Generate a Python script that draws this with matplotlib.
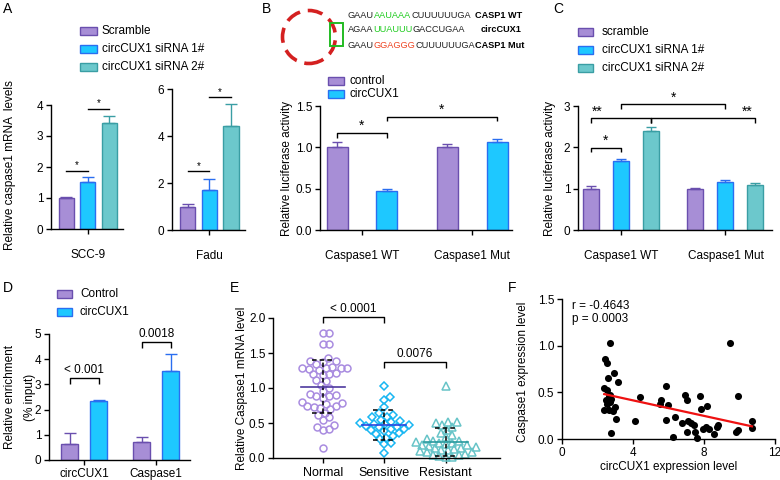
import numpy as np
import matplotlib
matplotlib.use('Agg')
import matplotlib.pyplot as plt
from matplotlib.patches import Rectangle, Circle

plt.rcParams['font.family'] = ['Liberation Sans', 'DejaVu Sans']
plt.rcParams['font.size'] = 8.5

W, H = 780, 480
fig = plt.figure(figsize=(7.8, 4.8), dpi=100)

# ---------------- data ----------------
# Panel A
a_groups = ['Scramble', 'circCUX1 siRNA 1#', 'circCUX1 siRNA 2#']
a_cells = ['SCC-9', 'Fadu']
a_scc9_mean = [0.99, 1.52, 3.43]
a_scc9_err = [0.05, 0.17, 0.23]
a_fadu_mean = [0.98, 1.72, 4.42]
a_fadu_err = [0.14, 0.47, 0.94]
a_scc9_sig = [1.88, 3.87]
a_fadu_sig = [2.50, 5.64]
a_scc9_ticks = [0, 1, 2, 3, 4]
a_fadu_ticks = [0, 2, 4, 6]

# Panel B
b_groups = ['control', 'circCUX1']
b_cats = ['Caspase1 WT', 'Caspase1 Mut']
b_control = [1.00, 1.00]
b_control_err = [0.06, 0.04]
b_circ = [0.47, 1.07]
b_circ_err = [0.03, 0.03]
b_sig_levels = [1.17, 1.37]
b_ticks = [0.0, 0.5, 1.0, 1.5]
seq_prefix = ['GAAU', 'AGAA', 'GAAU']
seq_site = ['AAUAAA', 'UUAUUU', 'GGAGGG']
seq_suffix = ['CUUUUUUGA', 'GACCUGAA', 'CUUUUUUGA']
seq_names = ['CASP1 WT', 'circCUX1', 'CASP1 Mut']
seq_site_colors = ['#22cc22', '#22cc22', '#ee4422']

# Panel C
c_groups = ['scramble', 'circCUX1 siRNA 1#', 'circCUX1 siRNA 2#']
c_cats = ['Caspase1 WT', 'Caspase1 Mut']
c_wt = [0.99, 1.67, 2.40]
c_wt_err = [0.08, 0.04, 0.09]
c_mut = [0.99, 1.16, 1.08]
c_mut_err = [0.03, 0.04, 0.06]
c_sig_levels = [1.99, 2.70, 3.04, 2.70]
c_sig_labels = ['*', '**', '*', '**']
c_ticks = [0, 1, 2, 3]

# Panel D
d_groups = ['Control', 'circCUX1']
d_cats = ['circCUX1', 'Caspase1']
d_control = [0.63, 0.70]
d_control_err = [0.43, 0.23]
d_circ = [2.33, 3.53]
d_circ_err = [0.05, 0.68]
d_sig_levels = [3.27, 4.70]
d_sig_labels = ['< 0.001', '0.0018']
d_ticks = [0, 1, 2, 3, 4, 5]

# Panel E
e_groups = ['Normal', 'Sensitive', 'Resistant']
e_normal = [1.78, 1.78, 1.63, 1.63, 1.43, 1.39, 1.38, 1.37, 1.34, 1.30, 1.29, 1.29,
            1.28, 1.28, 1.27, 1.26, 1.22, 1.20, 1.20, 1.18, 1.12, 1.10, 1.05, 1.00,
            0.96, 0.92, 0.90, 0.88, 0.88, 0.86, 0.80, 0.78, 0.77, 0.75, 0.74, 0.73,
            0.72, 0.70, 0.65, 0.62, 0.58, 0.55, 0.47, 0.45, 0.41, 0.40, 0.14]
e_sensitive = [1.03, 0.87, 0.83, 0.73, 0.64, 0.62, 0.59, 0.58, 0.55, 0.53, 0.52,
               0.50, 0.49, 0.48, 0.47, 0.46, 0.45, 0.44, 0.42, 0.41, 0.40, 0.38,
               0.36, 0.35, 0.32, 0.29, 0.27, 0.22, 0.20, 0.07]
e_resistant = [1.03, 0.52, 0.52, 0.50, 0.47, 0.45, 0.40, 0.36, 0.33, 0.30, 0.27,
               0.25, 0.24, 0.23, 0.22, 0.21, 0.20, 0.19, 0.18, 0.17, 0.16, 0.15,
               0.14, 0.13, 0.12, 0.11, 0.10, 0.09, 0.08, 0.06, 0.05, 0.04, 0.03,
               0.02, 0.02]
e_mean = [1.02, 0.475, 0.235]
e_sd = [0.375, 0.215, 0.20]
e_sig_levels = [2.02, 1.37]
e_sig_labels = ['< 0.0001', '0.0076']
e_ticks = [0.0, 0.5, 1.0, 1.5, 2.0]

# Panel F
f_x = [2.72, 2.43, 2.53, 2.94, 2.57, 3.13, 2.38, 2.53, 2.62, 2.50, 2.68, 2.78, 2.55,
       2.72, 3.00, 2.38, 2.62, 2.85, 3.04, 2.75, 4.09, 4.38, 5.51, 5.58, 5.87, 5.96,
       5.87, 6.26, 6.36, 6.74, 6.91, 7.06, 7.11, 7.06, 7.25, 7.43, 7.47, 7.62, 7.77,
       7.85, 8.15, 7.96, 8.09, 8.28, 8.57, 8.72, 8.81, 9.45, 9.79, 9.89, 9.89, 10.70,
       10.70]
f_y = [1.03, 0.86, 0.81, 0.71, 0.65, 0.61, 0.55, 0.52, 0.46, 0.42, 0.40, 0.43, 0.38,
       0.47, 0.34, 0.31, 0.31, 0.30, 0.21, 0.06, 0.19, 0.45, 0.37, 0.42, 0.57, 0.36,
       0.20, 0.02, 0.24, 0.17, 0.47, 0.42, 0.19, 0.07, 0.17, 0.15, 0.08, 0.01, 0.46,
       0.32, 0.35, 0.11, 0.13, 0.11, 0.05, 0.13, 0.15, 1.03, 0.07, 0.10, 0.46, 0.19,
       0.12]
f_stats = ['r = -0.4643', 'p = 0.0003']

# ---------------- styles ----------------
PURPLE, PURPLE_E = '#a78ed6', '#6a4fae'
CYAN, CYAN_E = '#1ec8ff', '#2a6ef0'
TEAL, TEAL_E = '#6cc8cc', '#3a9ea4'
FILLS = [PURPLE, CYAN, TEAL]
EDGES = [PURPLE_E, CYAN_E, TEAL_E]
FS = 8.5


def px(x, y):
    return x / W, 1 - y / H


def add_ax(x0, ytop, x1, ybot):
    return fig.add_axes([x0 / W, 1 - ybot / H, (x1 - x0) / W, (ybot - ytop) / H])


def style(ax):
    for s in ['top', 'right']:
        ax.spines[s].set_visible(False)
    for s in ['left', 'bottom']:
        ax.spines[s].set_linewidth(1.0)
    ax.tick_params(direction='out', length=3.5, width=1.0, labelsize=FS, pad=2)
    ax.patch.set_alpha(0)


def ppu(ax):
    y0, y1 = ax.get_ylim()
    return ax.bbox.height / (y1 - y0)


def bracket(ax, x1, x2, y, label, drop_px=4.5, fs=FS, gap_px=1.0, label_x=None):
    d = drop_px / ppu(ax)
    if drop_px > 0:
        ax.plot([x1, x1, x2, x2], [y - d, y, y, y - d], color='k', lw=1.0,
                clip_on=False, solid_capstyle='butt')
    else:
        ax.plot([x1, x2], [y, y], color='k', lw=1.0, clip_on=False)
    lx = (x1 + x2) / 2 if label_x is None else label_x
    ax.text(lx, y + gap_px / ppu(ax), label, ha='center', va='bottom',
            fontsize=fs, clip_on=False)


def bars(ax, xs, vals, errs, k, width, cap):
    ax.bar(xs, vals, width=width, color=FILLS[k], edgecolor=EDGES[k], linewidth=1.0, zorder=2)
    ax.errorbar(xs, vals, yerr=[np.zeros(len(vals)), errs], fmt='none',
                ecolor=EDGES[k], elinewidth=1.0, capsize=cap, capthick=1.0, zorder=3)


def legend(x_patch, ys, labels, cols, edges, w=16, h=8, x_text=None):
    for y, lab, c, e in zip(ys, labels, cols, edges):
        fig.add_artist(Rectangle(px(x_patch, y + h / 2), w / W, h / H,
                                 facecolor=c, edgecolor=e, linewidth=1.0,
                                 transform=fig.transFigure))
        fig.text(*px(x_text, y), lab, ha='left', va='center', fontsize=FS)


def ylabel(x, y, s):
    fig.text(*px(x, y), s, rotation=90, ha='center', va='center', fontsize=FS)


# ---------------- Panel A ----------------
fig.text(*px(3, 9), 'A', fontsize=10, ha='left', va='center')
legend(80, [31, 49, 67], a_groups, FILLS, EDGES, w=17, x_text=102)
ylabel(10, 165, 'Relative caspase1 mRNA  levels')

for (box, means, errs, sig, ticks, cell) in [
        ((51, 105, 123, 229), a_scc9_mean, a_scc9_err, a_scc9_sig, a_scc9_ticks, a_cells[0]),
        ((172, 89, 245, 230), a_fadu_mean, a_fadu_err, a_fadu_sig, a_fadu_ticks, a_cells[1])]:
    ax = add_ax(*box)
    style(ax)
    xs = np.arange(3)
    for k in range(3):
        bars(ax, [xs[k]], [means[k]], [errs[k]], k, 0.7, 4.5)
    ax.set_xlim(-0.72, 2.65)
    ax.set_ylim(0, ticks[-1])
    ax.set_yticks(ticks)
    ax.set_xticks([1])
    ax.set_xticklabels([cell])
    ax.tick_params(axis='x', pad=11)
    bracket(ax, 0, 1, sig[0], '*', drop_px=0, fs=7, gap_px=0.5)
    bracket(ax, 1, 2, sig[1], '*', drop_px=0, fs=7, gap_px=0.5)

# ---------------- Panel B ----------------
fig.text(*px(262, 9), 'B', fontsize=10, ha='left', va='center')
axc = fig.add_axes([278 / W, 1 - 68 / H, 62 / W, 62 / H])
axc.set_xlim(0, 62)
axc.set_ylim(0, 62)
axc.axis('off')
axc.add_patch(Circle((31, 31), 26.5, fill=False, edgecolor='#d42020', linewidth=2.6,
                     linestyle=(0, (4.2, 2.2))))
fig.add_artist(Rectangle(px(330, 46), 13 / W, 23 / H, fill=False, edgecolor='#22bb22',
                         linewidth=1.4, transform=fig.transFigure))
renderer = fig.canvas.get_renderer()
for i, yrow in enumerate([15, 30, 45]):
    x = 348
    for s, c in [(seq_prefix[i], '#222222'), (seq_site[i], seq_site_colors[i]),
                 (seq_suffix[i], '#222222')]:
        t = fig.text(*px(x, yrow), s, color=c, fontsize=6.6, ha='left', va='center')
        x += t.get_window_extent(renderer).width
    fig.text(*px(475 if i != 1 else 481, yrow), seq_names[i], fontsize=6.6,
             fontweight='bold', ha='left', va='center')

legend(328, [81, 94], b_groups, FILLS[:2], EDGES[:2], w=16, x_text=350)
ylabel(287, 168, 'Relative luciferase activity')
axb = add_ax(320, 106, 512, 230)
style(axb)
gx = np.arange(2)
off = 0.225
bars(axb, gx - off, b_control, b_control_err, 0, 0.19, 3.5)
bars(axb, gx + off, b_circ, b_circ_err, 1, 0.19, 3.5)
axb.set_xlim(-0.38, 1.36)
axb.set_ylim(0, 1.5)
axb.set_yticks(b_ticks)
axb.set_yticklabels([f'{t:.1f}' for t in b_ticks])
axb.set_xticks(gx)
axb.set_xticklabels(b_cats)
axb.tick_params(axis='x', pad=11)
bracket(axb, -off, off, b_sig_levels[0], '*', drop_px=4.5, fs=10, gap_px=0)
bracket(axb, off, 1 + off, b_sig_levels[1], '*', drop_px=4.5, fs=10, gap_px=0)

# ---------------- Panel C ----------------
fig.text(*px(553, 9), 'C', fontsize=10, ha='left', va='center')
legend(578, [32, 50, 68], c_groups, FILLS, EDGES, w=15, x_text=602)
ylabel(550, 168, 'Relative luciferase activity')
axc2 = add_ax(578, 106, 772, 230)
style(axc2)
coff = 0.287
for k in range(3):
    xk = gx + (k - 1) * coff
    bars(axc2, xk, [c_wt[k], c_mut[k]], [c_wt_err[k], c_mut_err[k]], k, 0.153, 3.5)
axc2.set_xlim(-0.41, 1.445)
axc2.set_ylim(0, 3)
axc2.set_yticks(c_ticks)
axc2.set_xticks(gx)
axc2.set_xticklabels(c_cats)
axc2.tick_params(axis='x', pad=11)
c_pairs = [(-coff, 0), (-coff, coff), (0, 1), (coff, 1 + coff)]
c_label_x = [None, -0.23, None, 1.205]
for (x1, x2), lev, lab, lx in zip(c_pairs, c_sig_levels, c_sig_labels, c_label_x):
    bracket(axc2, x1, x2, lev, lab, drop_px=4.5, fs=10, gap_px=0, label_x=lx)

# ---------------- Panel D ----------------
fig.text(*px(3, 288), 'D', fontsize=10, ha='left', va='center')
legend(57, [294, 312], d_groups, FILLS[:2], EDGES[:2], w=15, x_text=80)
ylabel(10, 397, 'Relative enrichment')
ylabel(30, 397, '(% input)')
axd = add_ax(49, 334, 190, 460)
style(axd)
doff = 0.2
bars(axd, gx - doff, d_control, d_control_err, 0, 0.236, 4)
bars(axd, gx + doff, d_circ, d_circ_err, 1, 0.236, 4)
axd.set_xlim(-0.49, 1.47)
axd.set_ylim(0, 5)
axd.set_yticks(d_ticks)
axd.set_xticks(gx)
axd.set_xticklabels(d_cats)
for g in range(2):
    bracket(axd, g - doff, g + doff, d_sig_levels[g], d_sig_labels[g], drop_px=6.5, fs=FS, gap_px=2)

# ---------------- Panel E ----------------
fig.text(*px(230, 288), 'E', fontsize=10, ha='left', va='center')
ylabel(242, 388, 'Relative Caspase1 mRNA level')
axe = add_ax(273, 318, 500, 458)
style(axe)
axe.set_xlim(-0.81, 2.88)
axe.set_ylim(0, 2.0)
axe.set_yticks(e_ticks)
axe.set_yticklabels([f'{t:.1f}' for t in e_ticks])
axe.set_xticks([0, 1, 2])
axe.set_xticklabels(e_groups)
axe.tick_params(axis='x', labelsize=9, pad=3)
xppu = axe.bbox.width / (2.88 + 0.81)
yppu = ppu(axe)


def swarm(vals, d=6.6):
    vals = np.asarray(vals, float)
    order = np.argsort(vals)
    placed = []
    offs = np.zeros(len(vals))
    for i in order:
        y = vals[i] * yppu
        cands = [0.0]
        for (xp, yp) in placed:
            dy = y - yp
            if abs(dy) < d:
                dx = np.sqrt(d * d - dy * dy)
                cands += [xp + dx, xp - dx]
        cands.sort(key=abs)
        for c in cands:
            if all((c - xp) ** 2 + (y - yp) ** 2 >= d * d - 1e-6 for xp, yp in placed):
                break
        placed.append((c, y))
        offs[i] = c
    return offs / xppu


e_markers = [('o', 5.0, '#a98ce0'), ('D', 3.9, '#18b6f2'), ('^', 5.2, '#68c4c8')]
e_meancol = ['#4e3a9e', '#2846e0', '#2a9a9e']
for g, vals in enumerate([e_normal, e_sensitive, e_resistant]):
    m, ms, col = e_markers[g]
    xo = swarm(vals)
    axe.plot(g + xo, vals, linestyle='none', marker=m, ms=ms, mfc='none', mec=col,
             mew=1.1, zorder=2, clip_on=False)
    mu, sd = e_mean[g], e_sd[g]
    axe.plot([g, g], [mu - sd, mu + sd], color='k', lw=1.1, ls=(0, (3, 2)), zorder=4)
    for yy in [mu - sd, mu + sd]:
        axe.plot([g - 0.18, g + 0.18], [yy, yy], color='k', lw=1.1, ls=(0, (3, 2)), zorder=4)
    axe.plot([g - 0.36, g + 0.36], [mu, mu], color=e_meancol[g], lw=1.2, zorder=5)
bracket(axe, 0, 1, e_sig_levels[0], e_sig_labels[0], drop_px=6, fs=FS, gap_px=2)
bracket(axe, 1, 2, e_sig_levels[1], e_sig_labels[1], drop_px=6, fs=FS, gap_px=2)

# ---------------- Panel F ----------------
fig.text(*px(508, 288), 'F', fontsize=10, ha='left', va='center')
ylabel(523, 372, 'Caspase1 expression level')
axf = add_ax(562, 299, 775, 439)
style(axf)
axf.scatter(f_x, f_y, s=26, color='black', zorder=3, clip_on=False, linewidths=0)
coef = np.polyfit(f_x, f_y, 1)
xl = np.array([min(f_x), max(f_x)])
axf.plot(xl, np.polyval(coef, xl), color='#ee1111', lw=1.6, zorder=4)
axf.set_xlim(0, 12)
axf.set_ylim(0, 1.5)
axf.set_xticks([0, 4, 8, 12])
axf.set_yticks([0.0, 0.5, 1.0, 1.5])
axf.set_yticklabels(['0.0', '0.5', '1.0', '1.5'])
axf.set_xlabel('circCUX1 expression level', fontsize=FS, labelpad=2)
fig.text(*px(572, 306), f_stats[0], fontsize=FS, ha='left', va='center')
fig.text(*px(572, 319), f_stats[1], fontsize=FS, ha='left', va='center')

fig.savefig('out.png', dpi=100)
